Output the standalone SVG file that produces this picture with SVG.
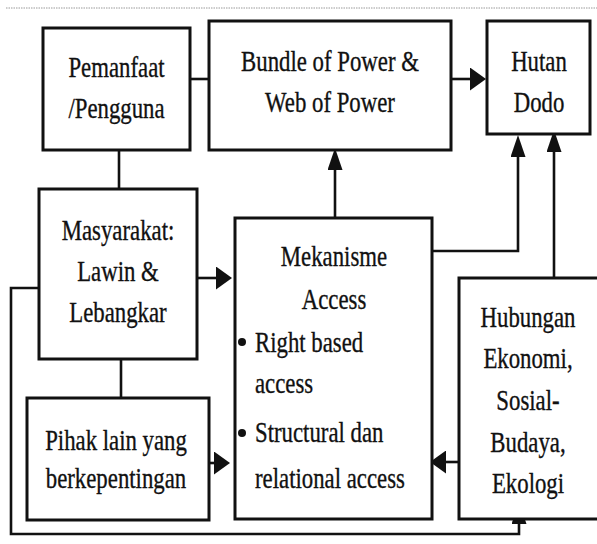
<svg xmlns="http://www.w3.org/2000/svg" width="597" height="544" viewBox="0 0 597 544">
<style>
.box{fill:#fff;stroke:#111;stroke-width:3}
.ln{fill:none;stroke:#111;stroke-width:2.6}
.t{font-family:"Liberation Serif","Times New Roman",serif;font-size:30px;fill:#111;stroke:#111;stroke-width:0.35}
.c{text-anchor:middle}
</style>
<defs>
<marker id="ah" markerUnits="userSpaceOnUse" markerWidth="16" markerHeight="23" refX="2" refY="11.5" orient="auto">
<path d="M0,0 L16,11.5 L0,23 Z" fill="#111"/>
</marker>
<marker id="av" markerUnits="userSpaceOnUse" markerWidth="22" markerHeight="15" refX="2" refY="7.5" orient="auto">
<path d="M0,0 L22,7.5 L0,15 Z" fill="#111"/>
</marker>
</defs>
<rect width="597" height="544" fill="#fff"/>
<line x1="6" y1="8" x2="597" y2="8" stroke="#999" stroke-width="1" stroke-dasharray="1.5,1"/>
<g id="connectors">
<path class="ln" d="M185,79 H209"/>
<path class="ln" d="M451,79 H472" marker-end="url(#ah)"/>
<path class="ln" d="M335,218 V168" marker-end="url(#av)"/>
<path class="ln" d="M429,251 H518 V155" marker-end="url(#av)"/>
<path class="ln" d="M554,278 V150" marker-end="url(#av)"/>
<path class="ln" d="M119,150 V189"/>
<path class="ln" d="M121,359 V398"/>
<path class="ln" d="M197,278 H218" marker-end="url(#ah)"/>
<path class="ln" d="M209,463 H216" marker-end="url(#ah)"/>
<path class="ln" d="M459,462 H444" marker-end="url(#ah)"/>
<path class="ln" d="M39,288 H11 V534 H519 V522" marker-end="url(#av)"/>
</g>
<g id="pemanfaat">
<rect class="box" x="43" y="28" width="147" height="122"/>
<g transform="translate(116.5,0) scale(0.76,1)">
<text class="t c" x="0" y="77">Pemanfaat</text>
<text class="t c" x="0" y="118">/Pengguna</text>
</g>
</g>
<g id="bundle">
<rect class="box" x="209" y="21" width="242" height="129"/>
<g transform="translate(330,0) scale(0.76,1)">
<text class="t c" x="0" y="71">Bundle of Power &amp;</text>
<text class="t c" x="0" y="112">Web of Power</text>
</g>
</g>
<g id="hutan">
<rect class="box" x="487" y="21" width="103" height="113"/>
<g transform="translate(539,0) scale(0.76,1)">
<text class="t c" x="0" y="71">Hutan</text>
<text class="t c" x="0" y="112">Dodo</text>
</g>
</g>
<g id="masyarakat">
<rect class="box" x="39" y="189" width="158" height="170"/>
<g transform="translate(118,0) scale(0.76,1)">
<text class="t c" x="0" y="240">Masyarakat:</text>
<text class="t c" x="0" y="281">Lawin &amp;</text>
<text class="t c" x="0" y="322">Lebangkar</text>
</g>
</g>
<g id="mekanisme">
<rect class="box" x="235" y="218" width="197" height="301"/>
<g transform="translate(334,0) scale(0.76,1)">
<text class="t c" x="0" y="266">Mekanisme</text>
<text class="t c" x="0" y="309">Access</text>
</g>
<circle cx="242" cy="342" r="4" fill="#111"/>
<circle cx="242" cy="433" r="4" fill="#111"/>
<g transform="translate(255,0) scale(0.76,1)">
<text class="t" x="0" y="352">Right based</text>
<text class="t" x="0" y="393">access</text>
<text class="t" x="0" y="442">Structural dan</text>
<text class="t" x="0" y="488">relational access</text>
</g>
</g>
<g id="hubungan">
<rect class="box" x="459" y="278" width="160" height="241"/>
<g transform="translate(528,0) scale(0.76,1)">
<text class="t c" x="0" y="327">Hubungan</text>
<text class="t c" x="0" y="368">Ekonomi,</text>
<text class="t c" x="0" y="410">Sosial-</text>
<text class="t c" x="0" y="452">Budaya,</text>
<text class="t c" x="0" y="493">Ekologi</text>
</g>
</g>
<g id="pihak">
<rect class="box" x="27" y="398" width="182" height="122"/>
<g transform="translate(116,0) scale(0.76,1)">
<text class="t c" x="0" y="450">Pihak lain yang</text>
<text class="t c" x="0" y="488">berkepentingan</text>
</g>
</g>
</svg>
